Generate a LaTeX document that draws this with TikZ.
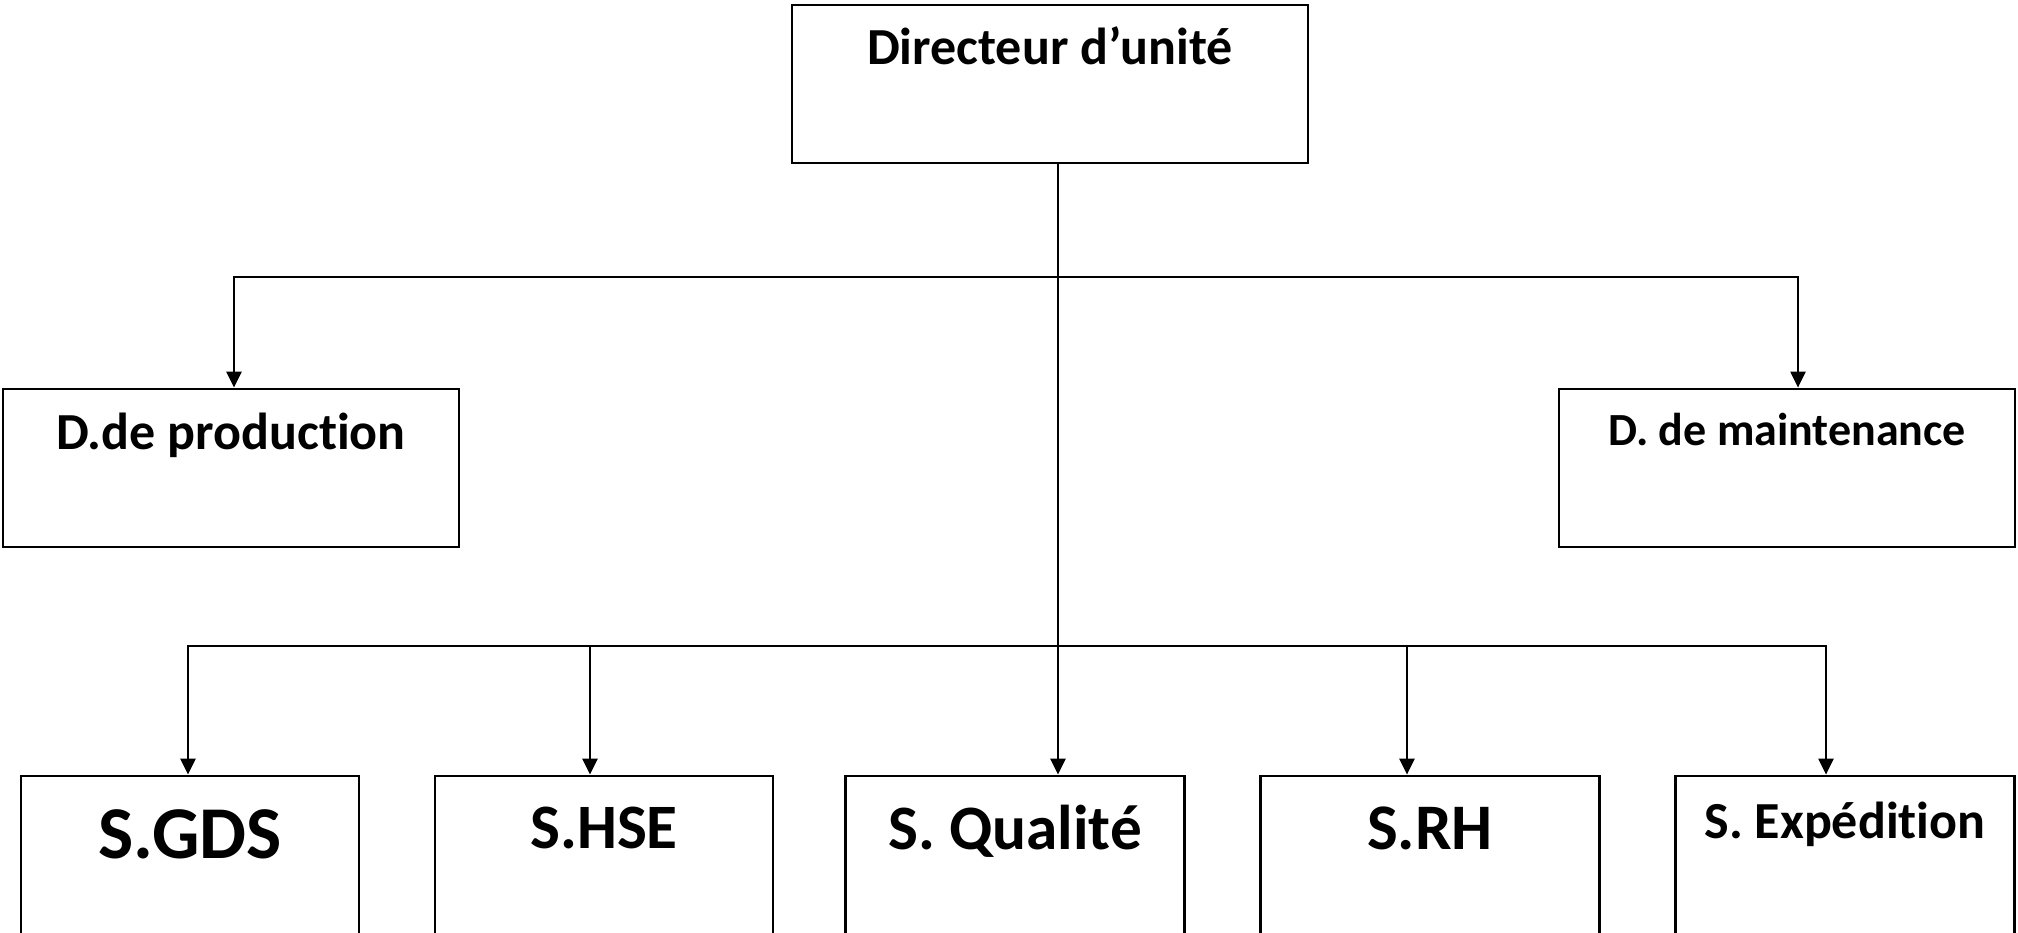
\documentclass[tikz,border=0pt]{standalone}
\usepackage{fontspec}
\setmainfont{Carlito}[Ligatures=NoCommon]
\usetikzlibrary{arrows.meta}
\tikzset{
    unit/.style={draw, line width=0.8pt, inner sep=0pt, anchor=base, font=\bfseries},
    link/.style={line width=0.7pt, -{Triangle[length=1.6mm,width=1.5mm]}}
}
\begin{document}
\begin{tikzpicture}
    % Fix the page size
    \useasboundingbox (0,0) rectangle (20.18,9.32);
    \clip (0,0) rectangle (20.18,9.32);
    % Top box
    \node[unit, minimum width=5.16cm, text height=0.60cm, text depth=0.98cm, font=\fontsize{14.8}{16}\bfseries] (dir) at (10.50,8.67) {Directeur d’unité};
    % Second level
    \node[unit, minimum width=4.56cm, text height=0.61cm, text depth=0.97cm, font=\fontsize{14.8}{16}\bfseries] (prod) at (2.31,4.82) {D.de production};
    \node[unit, minimum width=4.56cm, text height=0.57cm, text depth=1.01cm, font=\fontsize{13.1}{15}\bfseries] (maint) at (17.87,4.86) {D. de maintenance};
    % Services at the bottom
    \node[unit, minimum width=3.38cm, text height=0.82cm, text depth=1.10cm, font=\fontsize{21.2}{24}\bfseries] (gds) at (1.90,0.74) {S.GDS};
    \node[unit, minimum width=3.38cm, text height=0.72cm, text depth=1.20cm, font=\fontsize{18}{20}\bfseries] (hse) at (6.04,0.84) {S.HSE};
    \node[unit, minimum width=3.39cm, text height=0.73cm, text depth=1.19cm, font=\fontsize{18}{20}\bfseries] (qual) at (10.15,0.83) {S. Qualité};
    \node[unit, minimum width=3.39cm, text height=0.73cm, text depth=1.19cm, font=\fontsize{18.5}{20}\bfseries] (rh) at (14.30,0.83) {S.RH};
    \node[unit, minimum width=3.39cm, text height=0.62cm, text depth=1.30cm, font=\fontsize{14.8}{16}\bfseries] (exp) at (18.45,0.94) {S. Expédition};
    % Junctions on the trunk
    \coordinate (j1) at (10.58,6.55);
    \coordinate (j2) at (10.58,2.86);
    % Trunk from the top box
    \draw[line width=0.7pt] (dir.south -| j1) -- (j2);
    % Arrows to the second level
    \draw[link] (j1) -| ([xshift=0.03cm]prod.north);
    \draw[link] (j1) -| ([xshift=0.11cm]maint.north);
    % Arrows to the services
    \draw[link] (j2) -| ([xshift=-0.02cm]gds.north);
    \draw[link] (j2) -| ([xshift=-0.14cm]hse.north);
    \draw[link] (j2) -- (j2 |- qual.north);
    \draw[link] (j2) -| ([xshift=-0.23cm]rh.north);
    \draw[link] (j2) -| ([xshift=-0.19cm]exp.north);
\end{tikzpicture}
\end{document}
